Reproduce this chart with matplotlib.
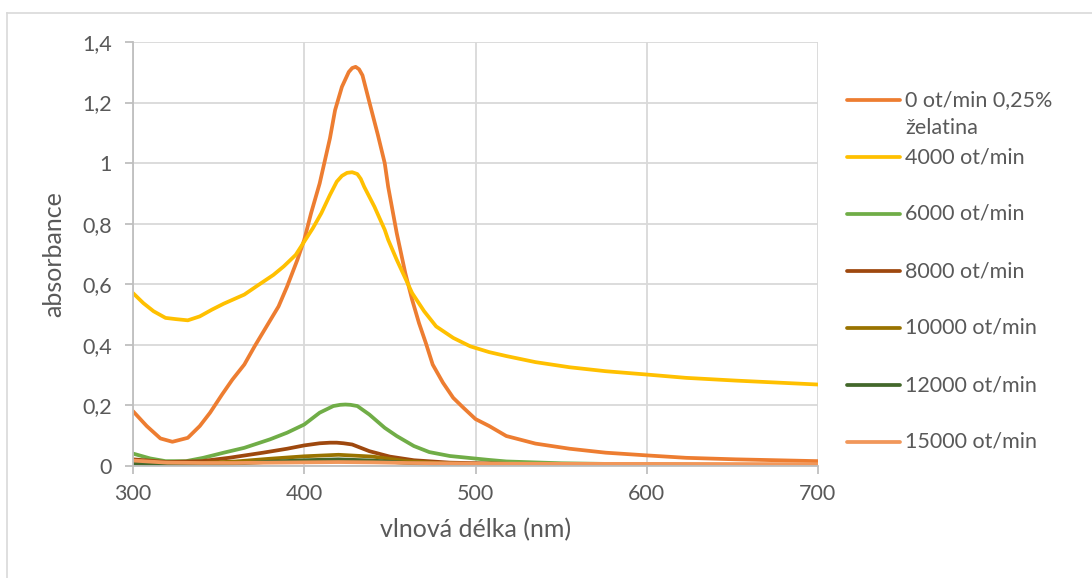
import matplotlib
matplotlib.use("Agg")
import matplotlib.pyplot as plt
from matplotlib.lines import Line2D

# ---- data ----
wl_0 = [300,308,316,323,332,339,345,352,358,365,371,378,385,390,396,400,404,409,415,418,422,426,428,430,432,434,438,443,447,449,454,459,463,467,471,475,481,487,493,500,508,518,535,555,576,600,623,652,700]
a_0 = [0.181,0.132,0.091,0.080,0.093,0.132,0.176,0.236,0.285,0.335,0.395,0.461,0.527,0.593,0.681,0.747,0.835,0.933,1.082,1.175,1.252,1.301,1.314,1.318,1.310,1.290,1.202,1.093,1.0,0.922,0.769,0.637,0.549,0.472,0.406,0.335,0.275,0.225,0.192,0.155,0.132,0.099,0.074,0.057,0.044,0.035,0.027,0.022,0.016]

wl_4 = [300,306,312,319,325,332,339,346,353,365,372,382,388,395,400,405,410,415,419,422,425,428,431,433,435,441,447,449,454,459,463,470,477,487,497,508,518,535,555,576,600,623,652,700]
a_4 = [0.571,0.538,0.511,0.489,0.485,0.481,0.494,0.516,0.536,0.566,0.593,0.631,0.659,0.697,0.741,0.785,0.835,0.895,0.939,0.958,0.968,0.970,0.964,0.948,0.922,0.856,0.780,0.747,0.681,0.620,0.571,0.511,0.461,0.423,0.395,0.376,0.363,0.343,0.326,0.313,0.302,0.291,0.282,0.269]

wl_6 = [300,310,319,331,341,353,365,380,390,400,409,417,421,424,427,431,438,447,454,464,473,485,508,518,550,600,700]
a_6 = [0.041,0.025,0.016,0.016,0.027,0.044,0.060,0.088,0.110,0.137,0.176,0.198,0.202,0.203,0.202,0.198,0.170,0.126,0.099,0.066,0.046,0.033,0.020,0.015,0.009,0.005,0.002]

wl_8 = [300,320,340,356,376,390,400,409,415,419,423,428,438,450,464,485,520,550,600,700]
a_8 = [0.022,0.013,0.016,0.027,0.044,0.057,0.068,0.075,0.077,0.077,0.075,0.071,0.049,0.031,0.019,0.011,0.007,0.005,0.004,0.003]

wl_low = [300,320,340,360,380,400,420,440,460,480,500,550,600,700]
a_10 = [0.015,0.009,0.010,0.015,0.024,0.032,0.037,0.031,0.016,0.009,0.006,0.004,0.003,0.002]
a_12 = [0.008,0.003,0.004,0.008,0.014,0.019,0.022,0.018,0.010,0.005,0.003,0.002,0.001,0.001]
a_15 = [0.018,0.011,0.010,0.010,0.011,0.012,0.013,0.012,0.010,0.009,0.008,0.007,0.007,0.006]

labels = ["0 ot/min 0,25%\nželatina", "4000 ot/min", "6000 ot/min", "8000 ot/min",
          "10000 ot/min", "12000 ot/min", "15000 ot/min"]
colors = ["#ED7D31", "#FFC000", "#70AD47", "#9E480E", "#997300", "#43682B", "#F1975A"]

x_ticks = [300, 400, 500, 600, 700]
y_ticks = [0, 0.2, 0.4, 0.6, 0.8, 1.0, 1.2, 1.4]
y_tick_labels = ["0", "0,2", "0,4", "0,6", "0,8", "1", "1,2", "1,4"]

series = [(wl_0, a_0), (wl_4, a_4), (wl_6, a_6), (wl_8, a_8),
          (wl_low, a_10), (wl_low, a_12), (wl_low, a_15)]

# ---- figure ----
plt.rcParams['font.family'] = ['Lato', 'DejaVu Sans']
W, H = 1092, 578
fig = plt.figure(figsize=(W/100, H/100), dpi=100)
txt = "#595959"
grid = "#D9D9D9"
fs = 15.5

# chart-area border (left and top visible)
fig.add_artist(Line2D([7/W, 7/W], [0, 1-13/H], color=grid, lw=1.2, transform=fig.transFigure))
fig.add_artist(Line2D([7/W, 1], [1-13/H, 1-13/H], color=grid, lw=1.2, transform=fig.transFigure))

ax = fig.add_axes([133/W, 1-466/H, (818-133)/W, (466-42)/H])
for (x, y), c in zip(series, colors):
    ax.plot(x, y, color=c, lw=2.7, solid_capstyle='round', solid_joinstyle='round')

ax.set_xlim(300, 700)
ax.set_ylim(0, 1.4)
ax.set_xticks(x_ticks)
ax.set_xticklabels([str(v) for v in x_ticks])
ax.set_yticks(y_ticks)
ax.set_yticklabels(y_tick_labels)
ax.grid(True, color=grid, lw=1.3)
ax.set_axisbelow(True)
for s in ['top', 'right']:
    ax.spines[s].set_visible(False)
for s in ['left', 'bottom']:
    ax.spines[s].set_color("#BFBFBF")
    ax.spines[s].set_linewidth(1.3)
ax.tick_params(axis='both', colors="#BFBFBF", labelcolor=txt, labelsize=fs,
               length=6, width=1.3, direction='out')
ax.tick_params(axis='y', pad=9)
ax.tick_params(axis='x', pad=7)
ax.set_xlabel("vlnová délka (nm)", fontsize=18, color=txt, labelpad=10)
ax.set_ylabel("absorbance", fontsize=18, color=txt, labelpad=12)

# manual legend (Excel style: handle aligned with first text line)
ys = [100, 157, 214, 271, 328, 385, 442]
for lab, c, yp in zip(labels, colors, ys):
    fig.add_artist(Line2D([847/W, 900/W], [1-yp/H, 1-yp/H], color=c, lw=2.7,
                          solid_capstyle='round', transform=fig.transFigure))
    lines = lab.split("\n")
    for i, ln in enumerate(lines):
        fig.text(905/W, 1-(yp+28*i)/H, ln, fontsize=fs, color=txt, va='center', ha='left')

fig.savefig("out.png", dpi=100)
